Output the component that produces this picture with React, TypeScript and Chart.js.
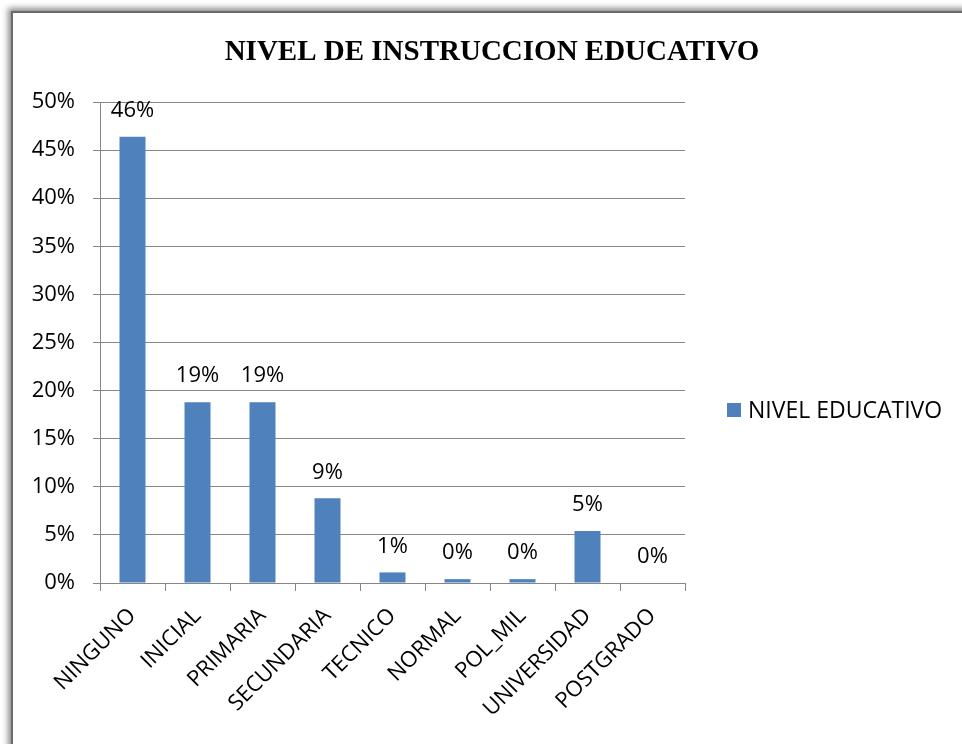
import React, { useEffect, useRef } from "react";
import { Chart, registerables } from "chart.js";

Chart.register(...registerables);

const categories = ["NINGUNO", "INICIAL", "PRIMARIA", "SECUNDARIA", "TECNICO", "NORMAL", "POL_MIL", "UNIVERSIDAD", "POSTGRADO"];
const seriesName = "NIVEL EDUCATIVO";
const values = [46.4, 18.8, 18.8, 8.8, 1.1, 0.4, 0.4, 5.4, 0];
const yTicks = [0, 5, 10, 15, 20, 25, 30, 35, 40, 45, 50];
const titleText = "NIVEL DE INSTRUCCION EDUCATIVO";

const BAR = "#4F81BD";
const GRID = "#868686";
const FONT = "'Open Sans', 'Noto Sans', sans-serif";

const valueLabels = {
  id: "valueLabels",
  afterDatasetsDraw(chart: any) {
    const ctx = chart.ctx;
    const meta = chart.getDatasetMeta(0);
    ctx.save();
    ctx.font = `22px ${FONT}`;
    ctx.fillStyle = "#000";
    ctx.textAlign = "center";
    ctx.textBaseline = "middle";
    meta.data.forEach((bar: any, i: number) => {
      const v = chart.data.datasets[0].data[i];
      ctx.fillText(`${Math.round(v)}%`, bar.x, bar.y - 26);
    });
    ctx.restore();
  },
};

const titleAndLegend = {
  id: "titleAndLegend",
  afterDraw(chart: any) {
    const ctx = chart.ctx;
    ctx.save();
    // title
    ctx.font = `bold 29px 'Liberation Serif', 'DejaVu Serif', serif`;
    ctx.fillStyle = "#000";
    ctx.textAlign = "center";
    ctx.textBaseline = "alphabetic";
    ctx.fillText(titleText, 492, 60);
    // legend
    const cy = 410;
    ctx.fillStyle = BAR;
    ctx.fillRect(727, cy - 7, 14, 14);
    ctx.font = `23px ${FONT}`;
    ctx.fillStyle = "#000";
    ctx.textAlign = "left";
    ctx.textBaseline = "middle";
    ctx.fillText(chart.data.datasets[0].label, 748, cy + 1);
    ctx.restore();
  },
};

export default function App() {
  const ref = useRef<HTMLCanvasElement>(null);
  useEffect(() => {
    const chart = new Chart(ref.current!, {
      type: "bar",
      data: {
        labels: categories,
        datasets: [
          {
            label: seriesName,
            data: values,
            backgroundColor: BAR,
            barPercentage: 0.4,
            categoryPercentage: 1,
          },
        ],
      },
      options: {
        animation: false,
        responsive: false,
        layout: { padding: { top: 102, left: 0, right: 277, bottom: 0 } },
        plugins: {
          legend: { display: false },
          tooltip: { enabled: false },
          title: { display: false },
        },
        scales: {
          x: {
            grid: { display: true, drawOnChartArea: false, offset: true, color: GRID, tickLength: 8 },
            border: { color: GRID, width: 1 },
            ticks: {
              color: "#000",
              font: { family: FONT, size: 22 },
              minRotation: 45,
              maxRotation: 45,
              autoSkip: false,
              padding: 12,
            },
            afterFit: (s: any) => {
              s.height = 744 - 583;
            },
          },
          y: {
            min: 0,
            max: 50,
            afterBuildTicks: (s: any) => {
              s.ticks = yTicks.map((v) => ({ value: v }));
            },
            grid: { color: GRID, tickLength: 7 },
            border: { color: GRID, width: 1 },
            ticks: {
              color: "#000",
              font: { family: FONT, size: 22 },
              padding: 18,
              callback: (v: any) => `${v}%`,
            },
            afterFit: (s: any) => {
              s.width = 100;
            },
          },
        },
      } as any,
      plugins: [valueLabels, titleAndLegend],
    });
    return () => chart.destroy();
  }, []);

  return (
    <div style={{ position: "fixed", left: 0, top: 0, width: 962, height: 744, overflow: "hidden", background: "#fff" }}>
      <div
        style={{
          position: "absolute",
          left: 11,
          top: 11,
          width: 1000,
          height: 800,
          border: "2px solid #6a6a6a",
          boxShadow: "-3px -3px 6px rgba(0,0,0,0.45)",
          background: "#fff",
        }}
      />
      <canvas ref={ref} width={962} height={744} style={{ position: "absolute", left: 0, top: 0 }} />
    </div>
  );
}
